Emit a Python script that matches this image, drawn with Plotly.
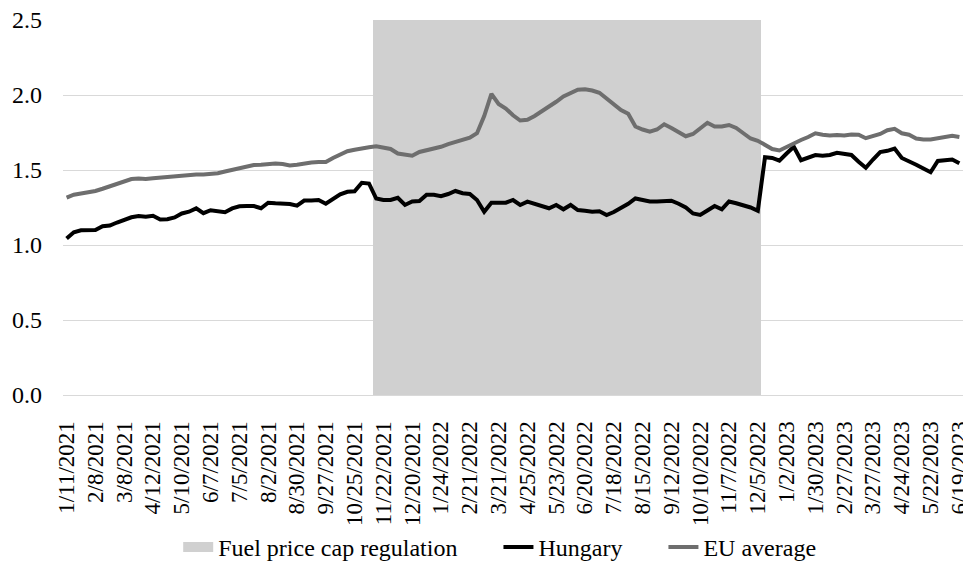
import plotly.graph_objects as go

dates = [
    "1/11/2021", "1/18/2021", "1/25/2021", "2/1/2021", "2/8/2021", "2/15/2021", "2/22/2021",
    "3/1/2021", "3/8/2021", "3/15/2021", "3/22/2021", "3/29/2021", "4/12/2021", "4/19/2021",
    "4/26/2021", "5/3/2021", "5/10/2021", "5/17/2021", "5/24/2021", "5/31/2021", "6/7/2021",
    "6/14/2021", "6/21/2021", "6/28/2021", "7/5/2021", "7/12/2021", "7/19/2021", "7/26/2021",
    "8/2/2021", "8/9/2021", "8/16/2021", "8/23/2021", "8/30/2021", "9/6/2021", "9/13/2021",
    "9/20/2021", "9/27/2021", "10/4/2021", "10/11/2021", "10/18/2021", "10/25/2021", "11/1/2021",
    "11/8/2021", "11/15/2021", "11/22/2021", "11/29/2021", "12/6/2021", "12/13/2021", "12/20/2021",
    "1/3/2022", "1/10/2022", "1/17/2022", "1/24/2022", "1/31/2022", "2/7/2022", "2/14/2022",
    "2/21/2022", "2/28/2022", "3/7/2022", "3/14/2022", "3/21/2022", "3/28/2022", "4/4/2022",
    "4/11/2022", "4/25/2022", "5/2/2022", "5/9/2022", "5/16/2022", "5/23/2022", "5/30/2022",
    "6/6/2022", "6/13/2022", "6/20/2022", "6/27/2022", "7/4/2022", "7/11/2022", "7/18/2022",
    "7/25/2022", "8/1/2022", "8/8/2022", "8/15/2022", "8/22/2022", "8/29/2022", "9/5/2022",
    "9/12/2022", "9/19/2022", "9/26/2022", "10/3/2022", "10/10/2022", "10/17/2022", "10/24/2022",
    "10/31/2022", "11/7/2022", "11/14/2022", "11/21/2022", "11/28/2022", "12/5/2022", "12/12/2022",
    "12/19/2022", "12/26/2022", "1/2/2023", "1/9/2023", "1/16/2023", "1/23/2023", "1/30/2023",
    "2/6/2023", "2/13/2023", "2/20/2023", "2/27/2023", "3/6/2023", "3/13/2023", "3/20/2023",
    "3/27/2023", "4/3/2023", "4/10/2023", "4/17/2023", "4/24/2023", "5/1/2023", "5/8/2023",
    "5/15/2023", "5/22/2023", "5/29/2023", "6/5/2023", "6/12/2023", "6/19/2023",
]

hungary = [
    1.044, 1.085, 1.098, 1.100, 1.100, 1.125, 1.130, 1.150, 1.165, 1.185,
    1.193, 1.188, 1.195, 1.170, 1.172, 1.184, 1.210, 1.222, 1.244, 1.212,
    1.232, 1.222, 1.218, 1.244, 1.258, 1.260, 1.260, 1.245, 1.282, 1.278,
    1.278, 1.273, 1.262, 1.296, 1.296, 1.300, 1.275, 1.310, 1.338, 1.355,
    1.358, 1.415, 1.410, 1.310, 1.300, 1.300, 1.315, 1.267, 1.290, 1.293,
    1.335, 1.335, 1.325, 1.340, 1.360, 1.345, 1.340, 1.300, 1.222, 1.282,
    1.282, 1.282, 1.300, 1.267, 1.289, 1.275, 1.260, 1.245, 1.267, 1.238,
    1.267, 1.233, 1.228, 1.222, 1.225, 1.200, 1.220, 1.245, 1.275, 1.310,
    1.300, 1.290, 1.290, 1.295, 1.295, 1.275, 1.250, 1.210, 1.200, 1.230,
    1.260, 1.238, 1.290, 1.278, 1.265, 1.250, 1.228, 1.585, 1.580, 1.562,
    1.610, 1.655, 1.565, 1.580, 1.600, 1.595, 1.600, 1.615, 1.605, 1.600,
    1.555, 1.515, 1.570, 1.620, 1.628, 1.643, 1.580, 1.560, 1.535, 1.510,
    1.485, 1.560, 1.565, 1.570, 1.545,
]

eu_average = [
    1.316, 1.335, 1.343, 1.349, 1.360, 1.375, 1.390, 1.405, 1.420, 1.440,
    1.443, 1.440, 1.445, 1.450, 1.452, 1.455, 1.465, 1.470, 1.470, 1.470,
    1.472, 1.478, 1.490, 1.500, 1.512, 1.522, 1.533, 1.535, 1.540, 1.544,
    1.540, 1.530, 1.535, 1.545, 1.550, 1.553, 1.553, 1.580, 1.605, 1.625,
    1.635, 1.645, 1.652, 1.658, 1.650, 1.640, 1.610, 1.605, 1.595, 1.620,
    1.630, 1.643, 1.655, 1.673, 1.685, 1.700, 1.715, 1.745, 1.860, 2.008,
    1.940, 1.910, 1.865, 1.830, 1.835, 1.860, 1.890, 1.920, 1.955, 1.990,
    2.010, 2.035, 2.038, 2.030, 2.015, 1.975, 1.940, 1.900, 1.875, 1.790,
    1.770, 1.755, 1.770, 1.805, 1.780, 1.755, 1.725, 1.740, 1.780, 1.815,
    1.790, 1.790, 1.800, 1.780, 1.745, 1.710, 1.695, 1.665, 1.640, 1.630,
    1.655, 1.680, 1.700, 1.720, 1.745, 1.735, 1.730, 1.733, 1.730, 1.737,
    1.735, 1.712, 1.725, 1.740, 1.765, 1.775, 1.745, 1.735, 1.710, 1.703,
    1.703, 1.713, 1.723, 1.728, 1.720,
]

cap_start = "11/15/2021"
cap_end = "12/5/2022"
cap_height = 2.5

tick_labels = dates[::4]

i0, i1 = dates.index(cap_start), dates.index(cap_end)
cap_values = [cap_height if i0 <= i <= i1 else None for i in range(len(dates))]

FONT = "Liberation Serif, Times New Roman, serif"
CAP_COLOR = "#d0d0d0"
PAD = "\u00a0" * 6

fig = go.Figure()
fig.add_trace(go.Bar(
    x=dates, y=cap_values, name="Fuel price cap regulation", showlegend=False,
    marker=dict(color=CAP_COLOR, line=dict(width=0)),
))
# legend swatch for the shaded period (wide rectangle like the original)
fig.add_trace(go.Scatter(
    x=[dates[0]], y=[None], name="Fuel price cap regulation" + PAD, mode="lines",
    line=dict(color=CAP_COLOR, width=15),
))
fig.add_trace(go.Scatter(
    x=dates, y=hungary, name="Hungary" + PAD, mode="lines",
    line=dict(color="#000000", width=4),
))
fig.add_trace(go.Scatter(
    x=dates, y=eu_average, name="EU average", mode="lines",
    line=dict(color="#6e6e6e", width=4),
))

fig.update_layout(
    width=963, height=556,
    margin=dict(l=55, r=8, t=12, b=169, autoexpand=False),
    paper_bgcolor="white", plot_bgcolor="white",
    bargap=0,
    font=dict(family=FONT, size=23, color="#000000"),
    showlegend=True,
    legend=dict(orientation="h", x=0.128, xanchor="left",
                yref="container", y=0.03, yanchor="middle",
                font=dict(family=FONT, size=24), itemwidth=30, tracegroupgap=0),
)
fig.update_xaxes(
    type="category", categoryorder="array", categoryarray=dates,
    tickmode="array", tickvals=tick_labels, ticktext=tick_labels,
    tickangle=-90, showgrid=False, showline=True, linecolor="#d9d9d9", linewidth=1,
    ticks="", ticklabelstandoff=16, tickfont=dict(family=FONT, size=23),
    automargin=False, ticklabeloverflow="allow",
)
fig.update_yaxes(
    range=[0, 2.5], tickvals=[0, 0.5, 1.0, 1.5, 2.0, 2.5],
    ticktext=["0.0", "0.5", "1.0", "1.5", "2.0", "2.5"],
    showgrid=True, gridcolor="#d9d9d9", gridwidth=1, zeroline=False,
    ticks="", ticklabelstandoff=20, tickfont=dict(family=FONT, size=24),
    automargin=False, ticklabeloverflow="allow",
)

fig.write_html("out.html")
